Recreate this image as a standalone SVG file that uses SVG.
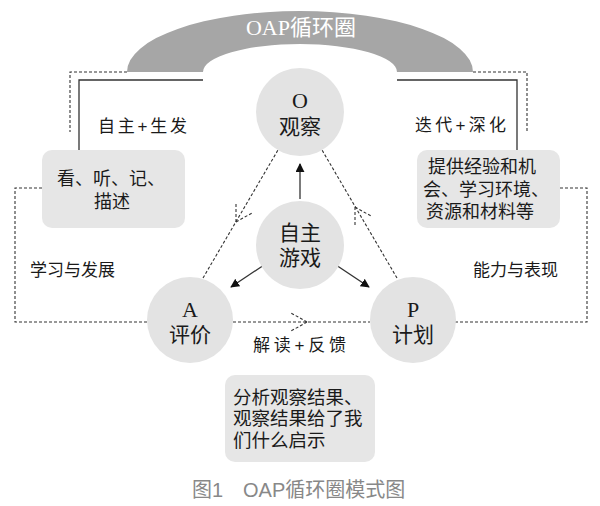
<svg xmlns="http://www.w3.org/2000/svg" width="600" height="506" viewBox="0 0 600 506">
<defs>
<style>
.dash{fill:none;stroke:#333;stroke-width:1.1;stroke-dasharray:3,2}
.solid{fill:none;stroke:#333;stroke-width:1.3}
.circ{fill:#e3e3e3}
.box{fill:#e6e6e6}
.t{font-family:"Liberation Serif","Noto Sans CJK SC",serif;fill:#1a1a1a;text-anchor:middle}
.k{font-family:"Liberation Sans","Noto Sans CJK SC",sans-serif;fill:#1a1a1a}
</style>
<marker id="ah" viewBox="0 0 10 10" refX="9" refY="5" markerWidth="9" markerHeight="9" markerUnits="userSpaceOnUse" orient="auto"><path d="M0,0L10,5L0,10z" fill="#111"/></marker>
</defs>
<rect width="600" height="506" fill="#fff"/>
<g id="band">
<path d="M127,72 A173,61 0 0 1 473,72 L397,72 A97,28 0 0 0 203,72 Z" fill="#a6a6a6"/>
<text class="t" x="301" y="35" font-size="22" style="fill:#fff">OAP循环圈</text>
</g>
<g id="connectors">
<path class="dash" d="M127,72H70V132"/>
<path class="dash" d="M473,72H527V132"/>
<path class="solid" d="M203,80H79V150"/>
<path class="solid" d="M397,80H517V150"/>
<path class="dash" d="M42,188H15V322H147"/>
<path class="dash" d="M560,188H587V322H453"/>
<path class="dash" d="M203,278L278,150"/>
<path class="dash" d="M397,278L322,150"/>
<path class="dash" d="M233,322H370"/>
<path class="dash" d="M236,222L236,204M236,222L252,213"/>
<path class="dash" d="M355,207L355,225M355,207L371,216"/>
<path class="dash" d="M307,322L291,313M307,322L291,331"/>
<path class="solid" d="M300,199V164" marker-end="url(#ah)"/>
<path class="solid" d="M264,265L231,287" marker-end="url(#ah)"/>
<path class="solid" d="M336,265L369,287" marker-end="url(#ah)"/>
</g>
<g id="O"><circle class="circ" cx="300" cy="112" r="44"/><text class="t" font-size="21"><tspan x="300" y="108" font-size="22">O</tspan><tspan x="300" y="134">观察</tspan></text></g>
<g id="center"><circle class="circ" cx="300" cy="245" r="44"/><text class="t" font-size="21"><tspan x="300" y="240">自主</tspan><tspan x="300" y="265">游戏</tspan></text></g>
<g id="A"><circle class="circ" cx="190" cy="320" r="43"/><text class="t" font-size="21"><tspan x="190" y="317" font-size="22">A</tspan><tspan x="190" y="342">评价</tspan></text></g>
<g id="P"><circle class="circ" cx="413" cy="320" r="43"/><text class="t" font-size="21"><tspan x="413" y="317" font-size="22">P</tspan><tspan x="413" y="342">计划</tspan></text></g>
<g id="boxL"><rect class="box" x="42" y="150" width="143" height="78" rx="10"/><text class="k" font-size="18"><tspan x="57" y="185">看、听、记、</tspan><tspan x="94" y="208">描述</tspan></text></g>
<g id="boxR"><rect class="box" x="417" y="150" width="143" height="78" rx="10"/><text class="k" font-size="18"><tspan x="428" y="173">提供经验和机</tspan><tspan x="423" y="196">会、学习环境、</tspan><tspan x="426" y="218">资源和材料等</tspan></text></g>
<g id="boxB"><rect class="box" x="225" y="375" width="150" height="87" rx="10"/><text class="k" font-size="18.5"><tspan x="233" y="404">分析观察结果、</tspan><tspan x="233" y="425">观察结果给了我</tspan><tspan x="233" y="447">们什么启示</tspan></text></g>
<g id="labels">
<text class="k" x="98" y="132" font-size="17" textLength="89" lengthAdjust="spacing">自主+生发</text>
<text class="k" x="415" y="131" font-size="17" textLength="91" lengthAdjust="spacing">迭代+深化</text>
<text class="k" x="30" y="276" font-size="17">学习与发展</text>
<text class="k" x="473" y="276" font-size="17">能力与表现</text>
<text class="k" x="253" y="351" font-size="17" textLength="93" lengthAdjust="spacing">解读+反馈</text>
<text class="k" font-size="20" style="fill:#888"><tspan x="192" y="497">图1</tspan><tspan x="243" y="497">OAP循环圈模式图</tspan></text>
</g>
</svg>
